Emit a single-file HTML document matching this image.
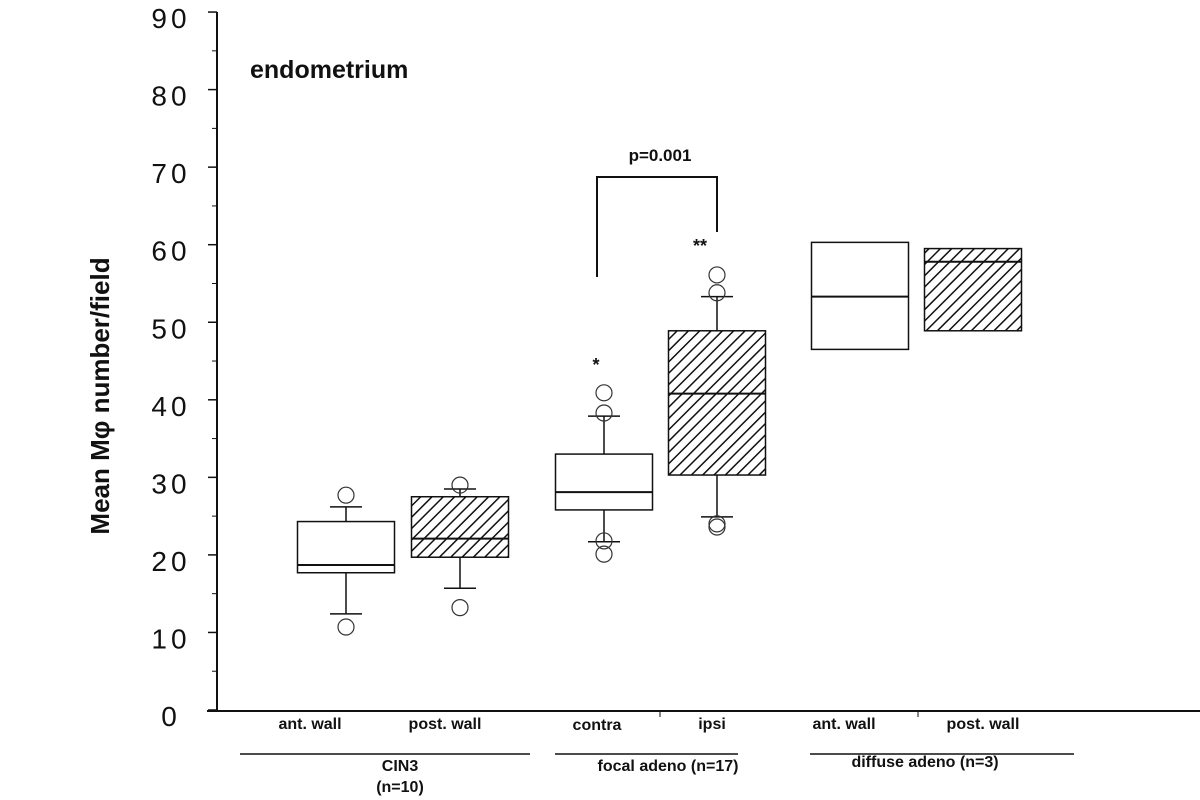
<!DOCTYPE html>
<html><head><meta charset="utf-8"><style>
html,body{margin:0;padding:0;background:#fff;}
svg{display:block;font-family:"Liberation Sans",sans-serif;}
</style></head><body>
<svg id="chart" width="1200" height="800" viewBox="0 0 1200 800" xmlns="http://www.w3.org/2000/svg">
<defs>
<pattern id="hatch" patternUnits="userSpaceOnUse" width="8" height="8" patternTransform="rotate(45)">
<line x1="0" y1="0" x2="0" y2="8" stroke="#111" stroke-width="3"/>
</pattern>
</defs>
<g id="axes"></g>
<g id="boxes"></g>
<text x="250" y="78" font-size="25" font-weight="bold" fill="#111">endometrium</text>
<text transform="translate(109,396) rotate(-90)" text-anchor="middle" font-size="26" font-weight="bold" fill="#111">Mean Mφ number/field</text>
<g stroke="#111" stroke-width="2" fill="none">
<polyline points="597,277 597,177 717,177 717,232"/>
</g>
<text x="660" y="161" text-anchor="middle" font-size="17" font-weight="bold" fill="#111">p=0.001</text>
<text x="700" y="252" text-anchor="middle" font-size="18" font-weight="bold" fill="#111">**</text>
<text x="596" y="371" text-anchor="middle" font-size="18" font-weight="bold" fill="#111">*</text>
<g font-size="16" fill="#111" text-anchor="middle" font-weight="bold">
<text x="310" y="729">ant. wall</text>
<text x="445" y="729">post. wall</text>
<text x="597" y="730">contra</text>
<text x="712" y="729">ipsi</text>
<text x="844" y="729">ant. wall</text>
<text x="983" y="729">post. wall</text>
</g>
<g stroke="#111" stroke-width="1.5">
<line x1="240" y1="754" x2="530" y2="754"/>
<line x1="555" y1="754" x2="738" y2="754"/>
<line x1="810" y1="754" x2="1074" y2="754"/>
</g>
<g font-size="16" fill="#111" text-anchor="middle" font-weight="bold">
<text x="400" y="771">CIN3</text>
<text x="400" y="792">(n=10)</text>
<text x="668" y="771">focal adeno (n=17)</text>
<text x="925" y="767">diffuse adeno (n=3)</text>
</g>
<script>
const categories=["CIN3 ant. wall","CIN3 post. wall","contra","ipsi","diffuse ant. wall","diffuse post. wall"];
const boxQ1=[17.7,19.7,25.8,30.3,46.5,48.9];
const boxMedian=[18.7,22.1,28.1,40.8,53.3,57.8];
const boxQ3=[24.3,27.5,33.0,48.9,60.3,59.5];
const whiskerLow=[12.4,15.7,21.7,24.9,null,null];
const whiskerHigh=[26.2,28.5,37.9,53.3,null,null];
const outliers=[[27.7,10.7],[29.0,13.2],[40.9,38.3,21.8,20.1],[56.1,53.8,24.0,23.6],[],[]];
const hatched=[false,true,false,true,false,true];
const yTicks=[0,10,20,30,40,50,60,70,80,90];
const NS="http://www.w3.org/2000/svg";
const y=v=>710-v*7.755;
const xc=i=>[346,460,604,717,860,973][i];
const bw=97;
function mk(tag,attrs,parent){const e=document.createElementNS(NS,tag);for(const k in attrs)e.setAttribute(k,attrs[k]);parent.appendChild(e);return e;}
const ax=document.getElementById('axes');
const yAxis=mk('line',{x1:217,y1:y(90),x2:217,y2:711,stroke:'#111','stroke-width':2},ax);


const xAxis=mk('line',{x1:207,y1:711,x2:1200,y2:711,stroke:'#111','stroke-width':2},ax);


[660,918].forEach(px=>{mk('line',{x1:px,y1:711,x2:px,y2:717,stroke:'#111','stroke-width':1},ax);});
yTicks.forEach(t=>{
 mk('line',{x1:208,y1:y(t),x2:217,y2:y(t),stroke:'#111','stroke-width':1.5},ax);
 if(t<90) mk('line',{x1:212,y1:y(t+5),x2:217,y2:y(t+5),stroke:'#111','stroke-width':1},ax);
 const tx=mk('text',{x:171,y:y(t)+16,'text-anchor':'middle','font-size':28,fill:'#111','letter-spacing':'4'},ax);
 
 
 tx.textContent=String(t);
});
const g=document.getElementById('boxes');
categories.forEach((c,i)=>{
 const grp=mk('g',{},g);
 
 
 const cx=xc(i),l=cx-bw/2;
 if(whiskerLow[i]!==null){
  mk('line',{x1:cx,y1:y(whiskerHigh[i]),x2:cx,y2:y(boxQ3[i]),stroke:'#111','stroke-width':1.5},grp);
  mk('line',{x1:cx,y1:y(boxQ1[i]),x2:cx,y2:y(whiskerLow[i]),stroke:'#111','stroke-width':1.5},grp);
  mk('line',{x1:cx-16,y1:y(whiskerHigh[i]),x2:cx+16,y2:y(whiskerHigh[i]),stroke:'#111','stroke-width':1.5},grp);
  mk('line',{x1:cx-16,y1:y(whiskerLow[i]),x2:cx+16,y2:y(whiskerLow[i]),stroke:'#111','stroke-width':1.5},grp);
 }
 mk('rect',{x:l,y:y(boxQ3[i]),width:bw,height:y(boxQ1[i])-y(boxQ3[i]),fill:hatched[i]?'url(#hatch)':'#fff',stroke:'#111','stroke-width':1.5},grp);
 mk('line',{x1:l,y1:y(boxMedian[i]),x2:l+bw,y2:y(boxMedian[i]),stroke:'#111','stroke-width':2},grp);
 outliers[i].forEach(o=>{
  const ci=mk('circle',{cx:cx,cy:y(o),r:8,fill:'none',stroke:'#333','stroke-width':1.2},grp);
  
  
 });
});
</script>
</svg>
</body></html>
